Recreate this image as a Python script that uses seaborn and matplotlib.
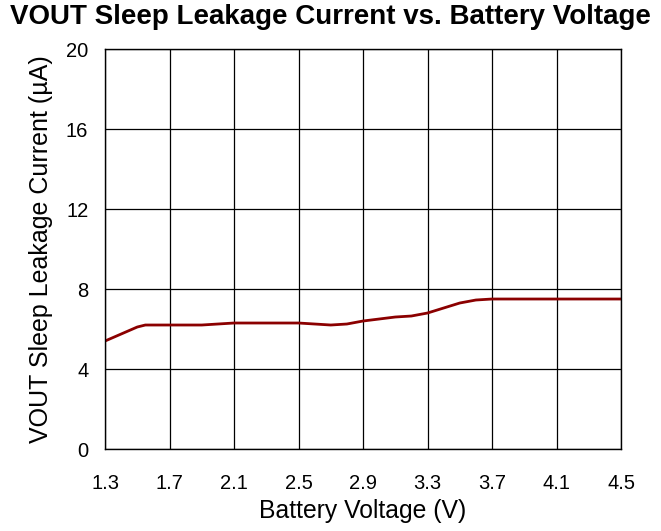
import numpy as np
import pandas as pd
import matplotlib
matplotlib.use('Agg')
import matplotlib.pyplot as plt
import seaborn as sns

# Data
battery_voltage = [1.3, 1.4, 1.5, 1.55, 1.6, 1.7, 1.8, 1.9, 2.0, 2.1, 2.2, 2.3, 2.4, 2.5,
                   2.6, 2.7, 2.8, 2.9, 3.0, 3.1, 3.2, 3.3, 3.4, 3.5, 3.6, 3.7,
                   3.8, 3.9, 4.0, 4.1, 4.2, 4.3, 4.4, 4.5]
leakage_ua = [5.4, 5.75, 6.1, 6.2, 6.2, 6.2, 6.2, 6.2, 6.25, 6.3, 6.3, 6.3, 6.3, 6.3,
              6.25, 6.2, 6.25, 6.4, 6.5, 6.6, 6.65, 6.8, 7.05, 7.3, 7.45, 7.5,
              7.5, 7.5, 7.5, 7.5, 7.5, 7.5, 7.5, 7.5]
x_ticks = [1.3, 1.7, 2.1, 2.5, 2.9, 3.3, 3.7, 4.1, 4.5]
y_ticks = [0, 4, 8, 12, 16, 20]

df = pd.DataFrame({'voltage': battery_voltage, 'current': leakage_ua})

sns.set_style('white')
plt.rcParams['font.family'] = ['Liberation Sans', 'DejaVu Sans']
plt.rcParams['text.color'] = 'black'

fig = plt.figure(figsize=(6.61, 5.31), dpi=100)
ax = fig.add_axes([0.1589, 0.1544, 0.7806, 0.7533])

sns.lineplot(data=df, x='voltage', y='current', color='#8B0000', linewidth=2.0, ax=ax)

ax.set_xlim(1.3, 4.5)
ax.set_ylim(0, 20)
ax.set_xticks(x_ticks)
ax.set_xticklabels([f'{v:.1f}' for v in x_ticks])
ax.set_yticks(y_ticks)
ax.grid(True, color='black', linewidth=0.9)
for s in ax.spines.values():
    s.set_color('black')
    s.set_linewidth(1.0)
ax.tick_params(axis='both', labelsize=14.5, length=0, colors='black', labelcolor='black')
ax.tick_params(axis='x', pad=18)
ax.tick_params(axis='y', pad=12)

ax.set_xlabel('Battery Voltage (V)', fontsize=17.8, labelpad=4, color='black')
ax.set_ylabel('VOUT Sleep Leakage Current (µA)', fontsize=18, color='black')
ax.yaxis.set_label_coords(-0.10, 0.5)
fig.text(0.5, 0.992, 'VOUT Sleep Leakage Current vs. Battery Voltage',
         ha='center', va='top', fontsize=20, fontweight='bold', color='black')

plt.savefig('out.png', dpi=100)
